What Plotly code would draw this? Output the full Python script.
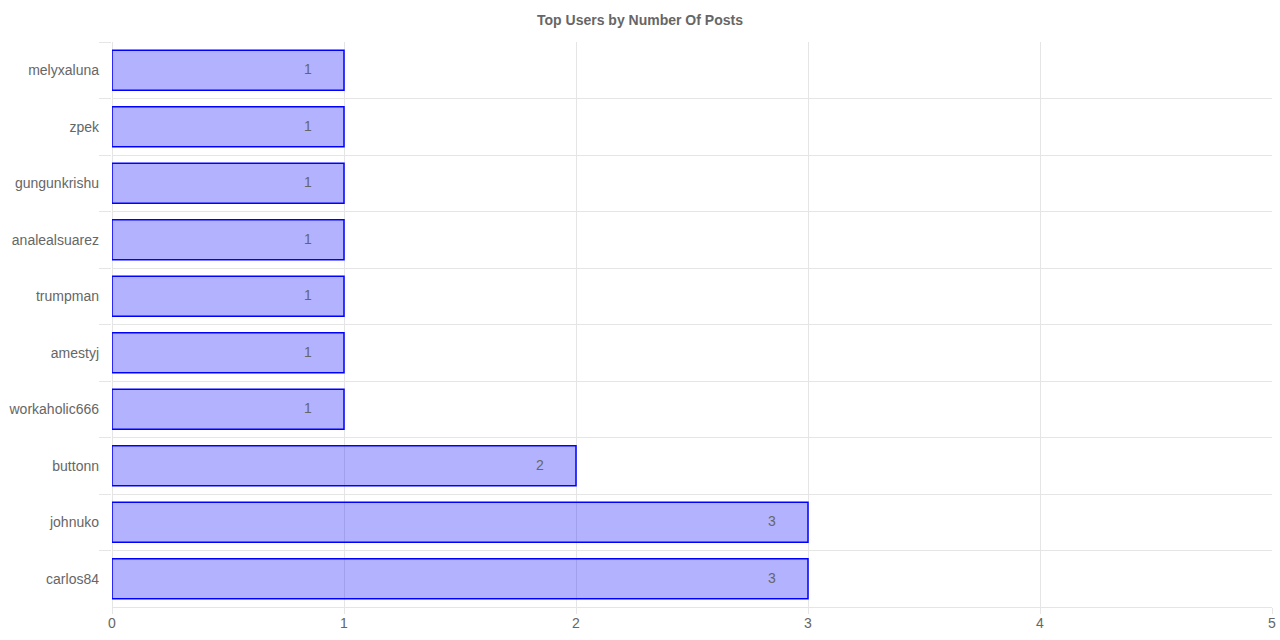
import plotly.graph_objects as go

users = ["melyxaluna", "zpek", "gungunkrishu", "analealsuarez", "trumpman",
         "amestyj", "workaholic666", "buttonn", "johnuko", "carlos84"]
posts = [1, 1, 1, 1, 1, 1, 1, 2, 3, 3]
x_ticks = [0, 1, 2, 3, 4, 5]
title_text = "Top Users by Number Of Posts"

font_family = "Liberation Sans, Arial, sans-serif"
grid = "#e5e5e5"

W, H = 1280, 640

fig = go.Figure()
fig.add_trace(go.Bar(
    y=users, x=posts, orientation="h",
    marker=dict(color="rgba(0,0,255,0.3)", line=dict(color="rgb(0,0,255)", width=1.5)),
    hoverinfo="x+y",
))

for u, v in zip(users, posts):
    fig.add_annotation(x=v, y=u, text=str(v), showarrow=False, xanchor="center",
                       xshift=-36, yshift=1, font=dict(size=14, color="#666", family=font_family))

fig.update_layout(
    width=W, height=H,
    margin=dict(l=112, r=8, t=42, b=33, autoexpand=False),
    paper_bgcolor="white", plot_bgcolor="white",
    bargap=0.29, showlegend=False,
    title=dict(text="<b>" + title_text + "</b>", x=0.5, xref="container", xanchor="center",
               y=1 - 20 / H, yref="container", yanchor="middle",
               font=dict(size=14, color="#666", family=font_family)),
    font=dict(family=font_family, size=14, color="#666"),
)
fig.update_xaxes(range=[0, 5], tickvals=x_ticks, showgrid=True, gridcolor=grid, gridwidth=1,
                 zeroline=True, zerolinecolor=grid, zerolinewidth=1, automargin=False,
                 ticks="outside", ticklen=6, tickcolor=grid, showline=True, linecolor=grid,
                 ticklabeloverflow="allow", ticklabelstandoff=-3,
                 tickfont=dict(size=14, color="#666"))
fig.update_yaxes(categoryorder="array", categoryarray=users, autorange="reversed",
                 tickson="boundaries", showgrid=True, gridcolor=grid, gridwidth=1,
                 zeroline=False, automargin=False,
                 ticks="outside", ticklen=12, tickcolor=grid, ticklabelstandoff=12,
                 tickfont=dict(size=14, color="#666"))

fig.write_html("out.html", config={"displayModeBar": False},
               post_script="document.body.style.margin='0';document.body.style.overflow='hidden';")
